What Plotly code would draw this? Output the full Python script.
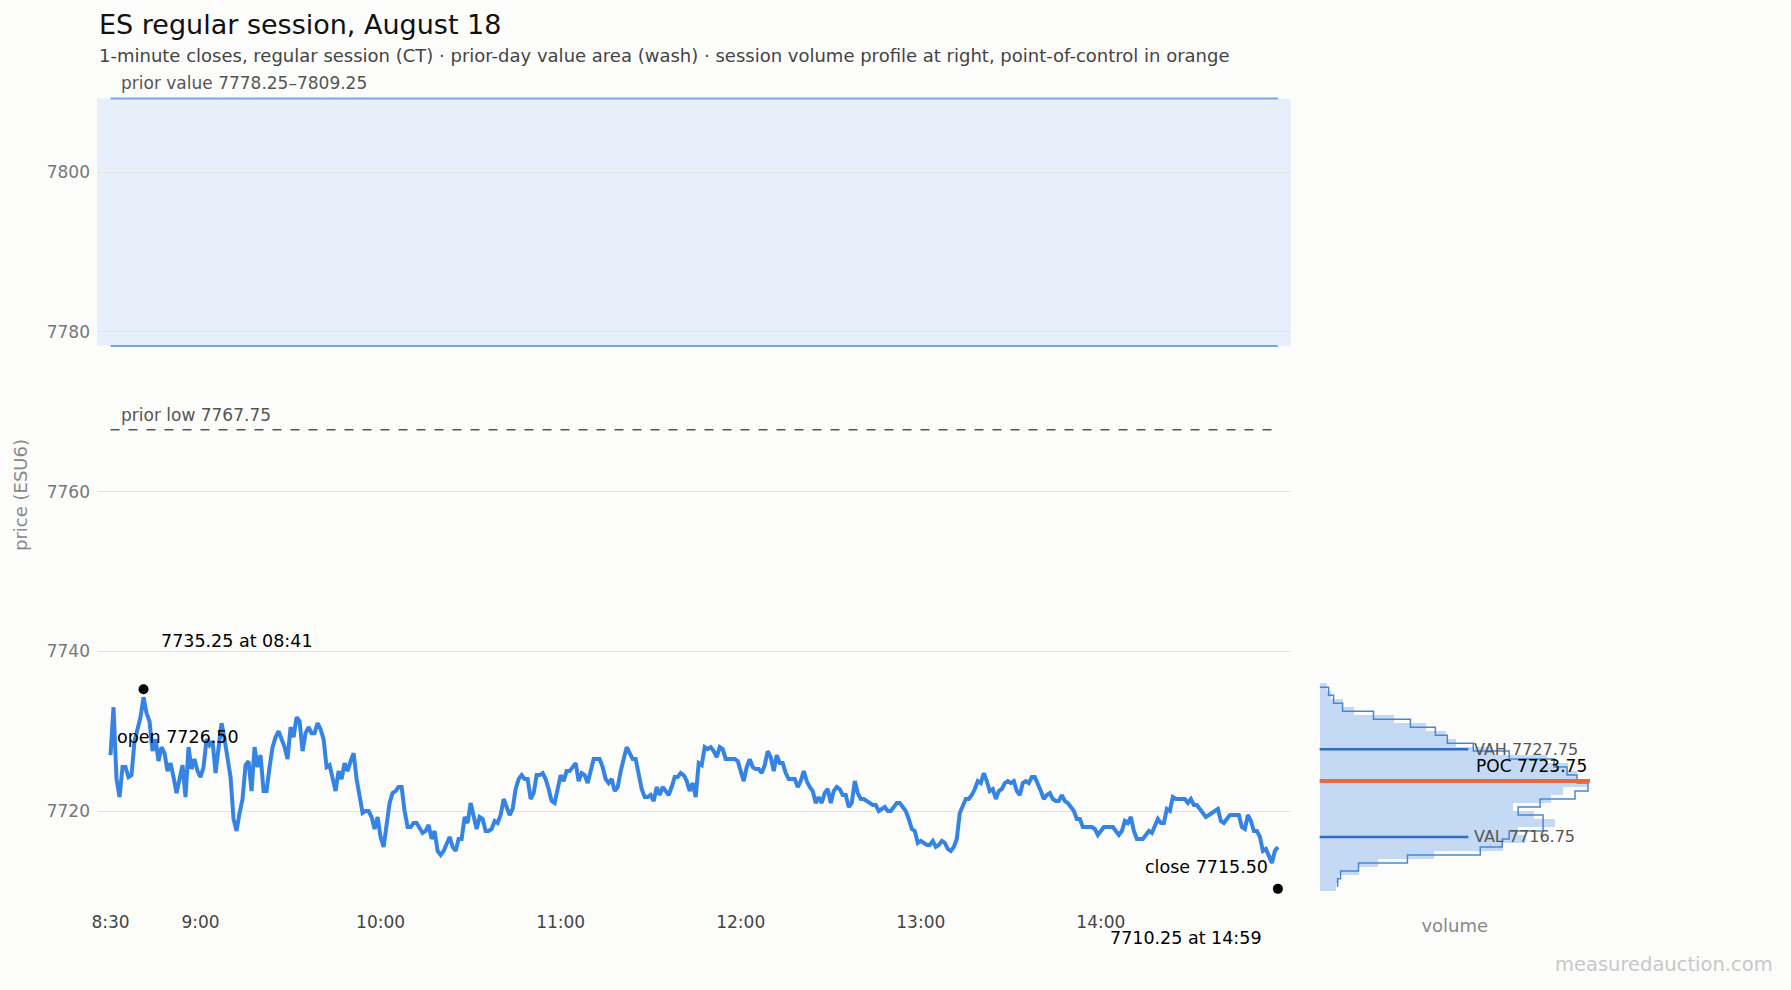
import pandas as pd
import plotly.graph_objects as go

session_date = "2026-08-18"

# 1-minute closes, 08:30 .. 14:59 CT (one row = 10 minutes)
closes = [
    7727.0, 7733.0, 7724.0, 7721.75, 7725.5, 7725.5, 7724.25, 7724.5, 7728.75, 7730.5,
    7731.75, 7734.25, 7732.25, 7731.25, 7727.5, 7729.0, 7726.25, 7728.0, 7727.25, 7725.0,
    7726.0, 7724.25, 7722.25, 7724.0, 7725.75, 7721.75, 7728.0, 7725.25, 7726.5, 7725.0,
    7724.25, 7725.5, 7729.0, 7728.25, 7728.75, 7724.75, 7728.5, 7731.0, 7729.0, 7726.5,
    7724.25, 7719.0, 7717.5, 7719.75, 7721.5, 7725.75, 7726.25, 7722.5, 7728.0, 7725.5,
    7727.0, 7722.5, 7722.5, 7725.5, 7728.0, 7729.25, 7730.0, 7729.0, 7728.0, 7726.5,
    7730.5, 7729.25, 7731.75, 7731.25, 7727.5, 7729.75, 7730.5, 7729.75, 7729.75, 7731.0,
    7730.25, 7729.0, 7725.5, 7725.75, 7724.25, 7722.5, 7725.0, 7724.0, 7726.0, 7725.0,
    7726.25, 7727.25, 7724.0, 7721.75, 7719.75, 7720.0, 7720.0, 7719.25, 7717.75, 7719.25,
    7716.75, 7715.5, 7718.0, 7721.0, 7722.25, 7722.5, 7723.0, 7723.0, 7720.0, 7718.0,
    7718.0, 7718.5, 7718.5, 7717.75, 7717.25, 7717.5, 7718.25, 7716.5, 7717.5, 7715.0,
    7714.5, 7715.0, 7715.75, 7716.75, 7715.5, 7715.0, 7716.5, 7716.5, 7719.25, 7718.5,
    7721.0, 7719.25, 7717.75, 7719.25, 7719.0, 7717.5, 7717.5, 7717.75, 7718.75, 7718.5,
    7719.5, 7721.5, 7720.5, 7719.5, 7720.25, 7722.75, 7724.0, 7724.5, 7724.0, 7724.0,
    7721.5, 7722.25, 7724.5, 7724.5, 7724.75, 7724.0, 7722.75, 7721.25, 7721.0, 7723.0,
    7724.5, 7723.75, 7725.0, 7725.0, 7725.5, 7726.0, 7723.75, 7724.75, 7724.5, 7723.5,
    7725.0, 7726.5, 7726.5, 7726.5, 7725.5, 7724.0, 7723.5, 7724.0, 7722.5, 7723.0,
    7725.0, 7726.5, 7728.0, 7727.25, 7726.5, 7726.5, 7724.75, 7722.75, 7721.75, 7721.75,
    7722.0, 7721.25, 7723.0, 7722.0, 7723.0, 7722.5, 7722.0, 7723.0, 7724.25, 7724.25,
    7724.75, 7724.5, 7723.75, 7722.5, 7723.5, 7721.75, 7726.0, 7725.75, 7728.0, 7727.75,
    7728.0, 7727.5, 7726.75, 7728.0, 7727.75, 7726.5, 7726.5, 7726.5, 7726.5, 7726.25,
    7725.0, 7723.75, 7725.5, 7726.5, 7725.5, 7725.25, 7725.25, 7724.75, 7725.75, 7727.5,
    7726.75, 7725.0, 7727.0, 7726.0, 7726.0, 7724.75, 7724.0, 7724.0, 7724.0, 7723.0,
    7723.75, 7725.0, 7723.75, 7723.0, 7722.5, 7721.0, 7721.75, 7721.0, 7722.25, 7722.75,
    7721.0, 7722.5, 7723.0, 7722.75, 7722.0, 7722.0, 7720.5, 7721.0, 7723.75, 7722.25,
    7721.5, 7721.5, 7721.25, 7721.0, 7720.75, 7720.75, 7720.0, 7720.25, 7720.5, 7720.0,
    7720.0, 7720.5, 7721.0, 7721.0, 7720.5, 7720.0, 7719.0, 7717.75, 7717.5, 7716.0,
    7716.25, 7716.0, 7715.75, 7715.75, 7716.25, 7715.5, 7715.75, 7716.25, 7716.0, 7715.25,
    7715.0, 7715.5, 7716.5, 7719.75, 7720.5, 7721.5, 7721.5, 7722.0, 7722.75, 7723.75,
    7723.5, 7724.75, 7723.75, 7722.5, 7722.75, 7721.5, 7722.5, 7722.75, 7723.5, 7723.75,
    7723.5, 7723.75, 7722.5, 7722.0, 7723.5, 7723.75, 7723.5, 7724.25, 7724.25, 7723.5,
    7722.5, 7721.5, 7722.0, 7722.25, 7721.5, 7721.25, 7721.25, 7722.0, 7721.25, 7721.0,
    7720.5, 7720.0, 7719.0, 7719.0, 7718.0, 7718.0, 7718.0, 7718.0, 7717.75, 7717.0,
    7717.5, 7718.0, 7718.0, 7718.0, 7718.0, 7717.5, 7717.0, 7717.5, 7718.75, 7718.5,
    7719.25, 7717.5, 7716.5, 7716.5, 7716.5, 7717.0, 7717.5, 7717.25, 7718.25, 7719.0,
    7718.5, 7718.5, 7720.25, 7720.0, 7721.75, 7721.5, 7721.5, 7721.5, 7721.5, 7721.0,
    7721.5, 7720.75, 7720.75, 7720.25, 7719.75, 7719.25, 7719.5, 7719.75, 7720.0, 7720.25,
    7718.75, 7718.5, 7719.0, 7719.5, 7719.5, 7719.5, 7719.5, 7718.0, 7717.75, 7719.5,
    7718.75, 7717.5, 7717.5, 7716.75, 7715.0, 7715.25, 7714.5, 7713.5, 7715.0, 7715.5,
]

open_px = 7726.50
close_px = 7715.50
hi_px, hi_time = 7735.25, "08:41"
lo_px, lo_time = 7710.25, "14:59"

prior_val = 7778.25
prior_vah = 7809.25
prior_low = 7767.75

# session volume profile, 1-pt rows (row centre price, volume in hundreds)
prof_px = [7735.5, 7734.5, 7733.5, 7732.5, 7731.5, 7730.5, 7729.5, 7728.5, 7727.5,
           7726.5, 7725.5, 7724.5, 7723.5, 7722.5, 7721.5, 7720.5, 7719.5, 7718.5,
           7717.5, 7716.5, 7715.5, 7714.5, 7713.5, 7712.5, 7711.5, 7710.5]
prof_vol = [7, 11, 23, 34, 74, 106, 126, 136, 172,
            228, 249, 258, 268, 244, 232, 193, 214, 236,
            198, 206, 183, 114, 58, 39, 19, 16]

# outline rows centred on whole points
outline_px = [7735, 7734, 7733, 7732, 7731, 7730, 7729, 7728, 7727, 7726, 7725, 7724, 7723,
              7722, 7721, 7720, 7719, 7718, 7717, 7716, 7715, 7714, 7713, 7712, 7711]
outline_vol = [9, 14, 23, 54, 91, 116, 128, 154, 190, 235, 248, 258, 269,
               256, 221, 199, 224, 224, 190, 183, 161, 88, 39, 21, 18]

poc, vah, val = 7723.75, 7727.75, 7716.75

tick_times = ["08:30", "09:00", "10:00", "11:00", "12:00", "13:00", "14:00"]
tick_text = ["8:30", "9:00", "10:00", "11:00", "12:00", "13:00", "14:00"]

FONT = "DejaVu Sans"
BG = "#fcfcfb"

times = pd.date_range(f"{session_date} 08:30", periods=len(closes), freq="min")
t_hi = pd.Timestamp(f"{session_date} {hi_time}")
t_lo = pd.Timestamp(f"{session_date} {lo_time}")

fig = go.Figure()

# price line
fig.add_trace(go.Scatter(x=times, y=closes, mode="lines",
                         line=dict(color="#3584e4", width=4),
                         showlegend=False, hoverinfo="skip"))

# session high / low dots
fig.add_trace(go.Scatter(x=[t_hi, t_lo], y=[hi_px, lo_px], mode="markers",
                         marker=dict(color="black", size=10),
                         showlegend=False, hoverinfo="skip"))

# volume profile
fig.add_trace(go.Bar(x=prof_vol, y=prof_px, orientation="h", width=1.0,
                     marker=dict(color="#c3d9f4", line=dict(width=0)),
                     xaxis="x2", yaxis="y2", showlegend=False, hoverinfo="skip"))

edges = [p + 0.5 for p in outline_px] + [outline_px[-1] - 0.5]
fig.add_trace(go.Scatter(x=[0] + outline_vol, y=edges, mode="lines",
                         line=dict(color="#4a86d6", width=1.5, shape="hv"),
                         xaxis="x2", yaxis="y2", showlegend=False, hoverinfo="skip"))

shapes = [
    # prior-day value area wash
    dict(type="rect", xref="x domain", yref="y", x0=0, x1=1, y0=prior_val, y1=prior_vah,
         fillcolor="#e6effa", line=dict(width=0), layer="below"),
    dict(type="line", xref="x", yref="y", x0=times[0], x1=times[-1], y0=prior_vah, y1=prior_vah,
         line=dict(color="#78a5dc", width=2)),
    dict(type="line", xref="x", yref="y", x0=times[0], x1=times[-1], y0=prior_val, y1=prior_val,
         line=dict(color="#78a5dc", width=2)),
    dict(type="line", xref="x", yref="y", x0=times[0], x1=times[-1], y0=prior_low, y1=prior_low,
         line=dict(color="#555555", width=1.5, dash="dash")),
    # profile levels
    dict(type="line", xref="x2 domain", yref="y2", x0=0, x1=0.55, y0=vah, y1=vah,
         line=dict(color="#2f6cc4", width=2.5)),
    dict(type="line", xref="x2 domain", yref="y2", x0=0, x1=0.55, y0=val, y1=val,
         line=dict(color="#2f6cc4", width=2.5)),
    dict(type="line", xref="x2 domain", yref="y2", x0=0, x1=1, y0=poc, y1=poc,
         line=dict(color="#e8693d", width=4)),
]

ann = [
    dict(text="ES regular session, August 18", xref="paper", yref="paper", x=0, y=1.0663,
         xanchor="left", yanchor="middle", font=dict(size=27, color="#111")),
    dict(text="1-minute closes, regular session (CT) · prior-day value area (wash) · "
              "session volume profile at right, point-of-control in orange",
         xref="paper", yref="paper", x=0, y=1.0301, xanchor="left", yanchor="middle",
         font=dict(size=18, color="#444")),
    dict(text=f"prior value {prior_val:.2f}–{prior_vah:.2f}", x=times[0], y=prior_vah,
         xanchor="left", yanchor="middle", xshift=8, yshift=15, font=dict(size=17, color="#555")),
    dict(text=f"prior low {prior_low:.2f}", x=times[0], y=prior_low,
         xanchor="left", yanchor="middle", xshift=8, yshift=15, font=dict(size=17, color="#555")),
    dict(text=f"open {open_px:.2f}", x=times[0], y=open_px,
         xanchor="left", yanchor="middle", xshift=4, yshift=22, font=dict(size=17.5, color="black")),
    dict(text=f"{hi_px:.2f} at {hi_time}", x=t_hi, y=hi_px,
         xanchor="left", yanchor="middle", xshift=15, yshift=48, font=dict(size=17.5, color="black")),
    dict(text=f"close {close_px:.2f}", x=times[-1], y=close_px,
         xanchor="right", yanchor="middle", xshift=-8, yshift=-20, font=dict(size=17.5, color="black")),
    dict(text=f"{lo_px:.2f} at {lo_time}", x=t_lo, y=lo_px,
         xanchor="right", yanchor="middle", xshift=-14, yshift=-49, font=dict(size=17.5, color="black")),
    dict(text=f"VAH {vah:.2f}", xref="x2 domain", yref="y2", x=0.565, y=vah,
         xanchor="left", yanchor="middle", font=dict(size=16, color="#555")),
    dict(text=f"POC {poc:.2f}", xref="x2 domain", yref="y2", x=0.57, y=poc,
         xanchor="left", yanchor="middle", yshift=15, font=dict(size=17, color="black")),
    dict(text=f"VAL {val:.2f}", xref="x2 domain", yref="y2", x=0.565, y=val,
         xanchor="left", yanchor="middle", font=dict(size=16, color="#555")),
    dict(text="measuredauction.com", xref="paper", yref="paper", x=1.1237, y=-0.066,
         xanchor="right", yanchor="middle", font=dict(size=19.5, color="#c8c8c8")),
]
for a in ann:
    a.setdefault("xref", "x")
    a.setdefault("yref", "y")
    a["showarrow"] = False

fig.update_layout(
    width=1791, height=990,
    # the page body adds 8px, so margins are trimmed to keep the plot where it belongs
    margin=dict(l=86, r=209, t=72, b=88),
    paper_bgcolor=BG, plot_bgcolor=BG,
    font=dict(family=FONT, size=17, color="#444"),
    bargap=0,
    shapes=shapes,
    annotations=ann,
    xaxis=dict(domain=[0, 0.7995],
               range=[f"{session_date} 08:25:30", f"{session_date} 15:03:15"],
               tickvals=[pd.Timestamp(f"{session_date} {t}") for t in tick_times],
               ticktext=tick_text, showgrid=False, zeroline=False,
               tickfont=dict(size=17, color="#444")),
    yaxis=dict(domain=[0, 1], range=[7707.6, 7811.56],
               tickvals=[7720, 7740, 7760, 7780, 7800], showgrid=True,
               gridcolor="#e3e3e3", zeroline=False,
               tickfont=dict(size=17, color="#777"), ticklabelstandoff=6,
               title=dict(text="price (ESU6)", font=dict(size=18, color="#888"), standoff=14)),
    xaxis2=dict(domain=[0.8189, 1.0], anchor="y2", range=[0, 271],
                showticklabels=False, showgrid=False, zeroline=False,
                title=dict(text="volume", font=dict(size=18, color="#888"), standoff=9)),
    yaxis2=dict(anchor="x2", matches="y", showticklabels=False, showgrid=False,
                zeroline=False),
)

# paint the page body too, so the 8px body margin doesn't show as a white frame
fig.write_html("out.html", post_script=f"document.body.style.background='{BG}';")
